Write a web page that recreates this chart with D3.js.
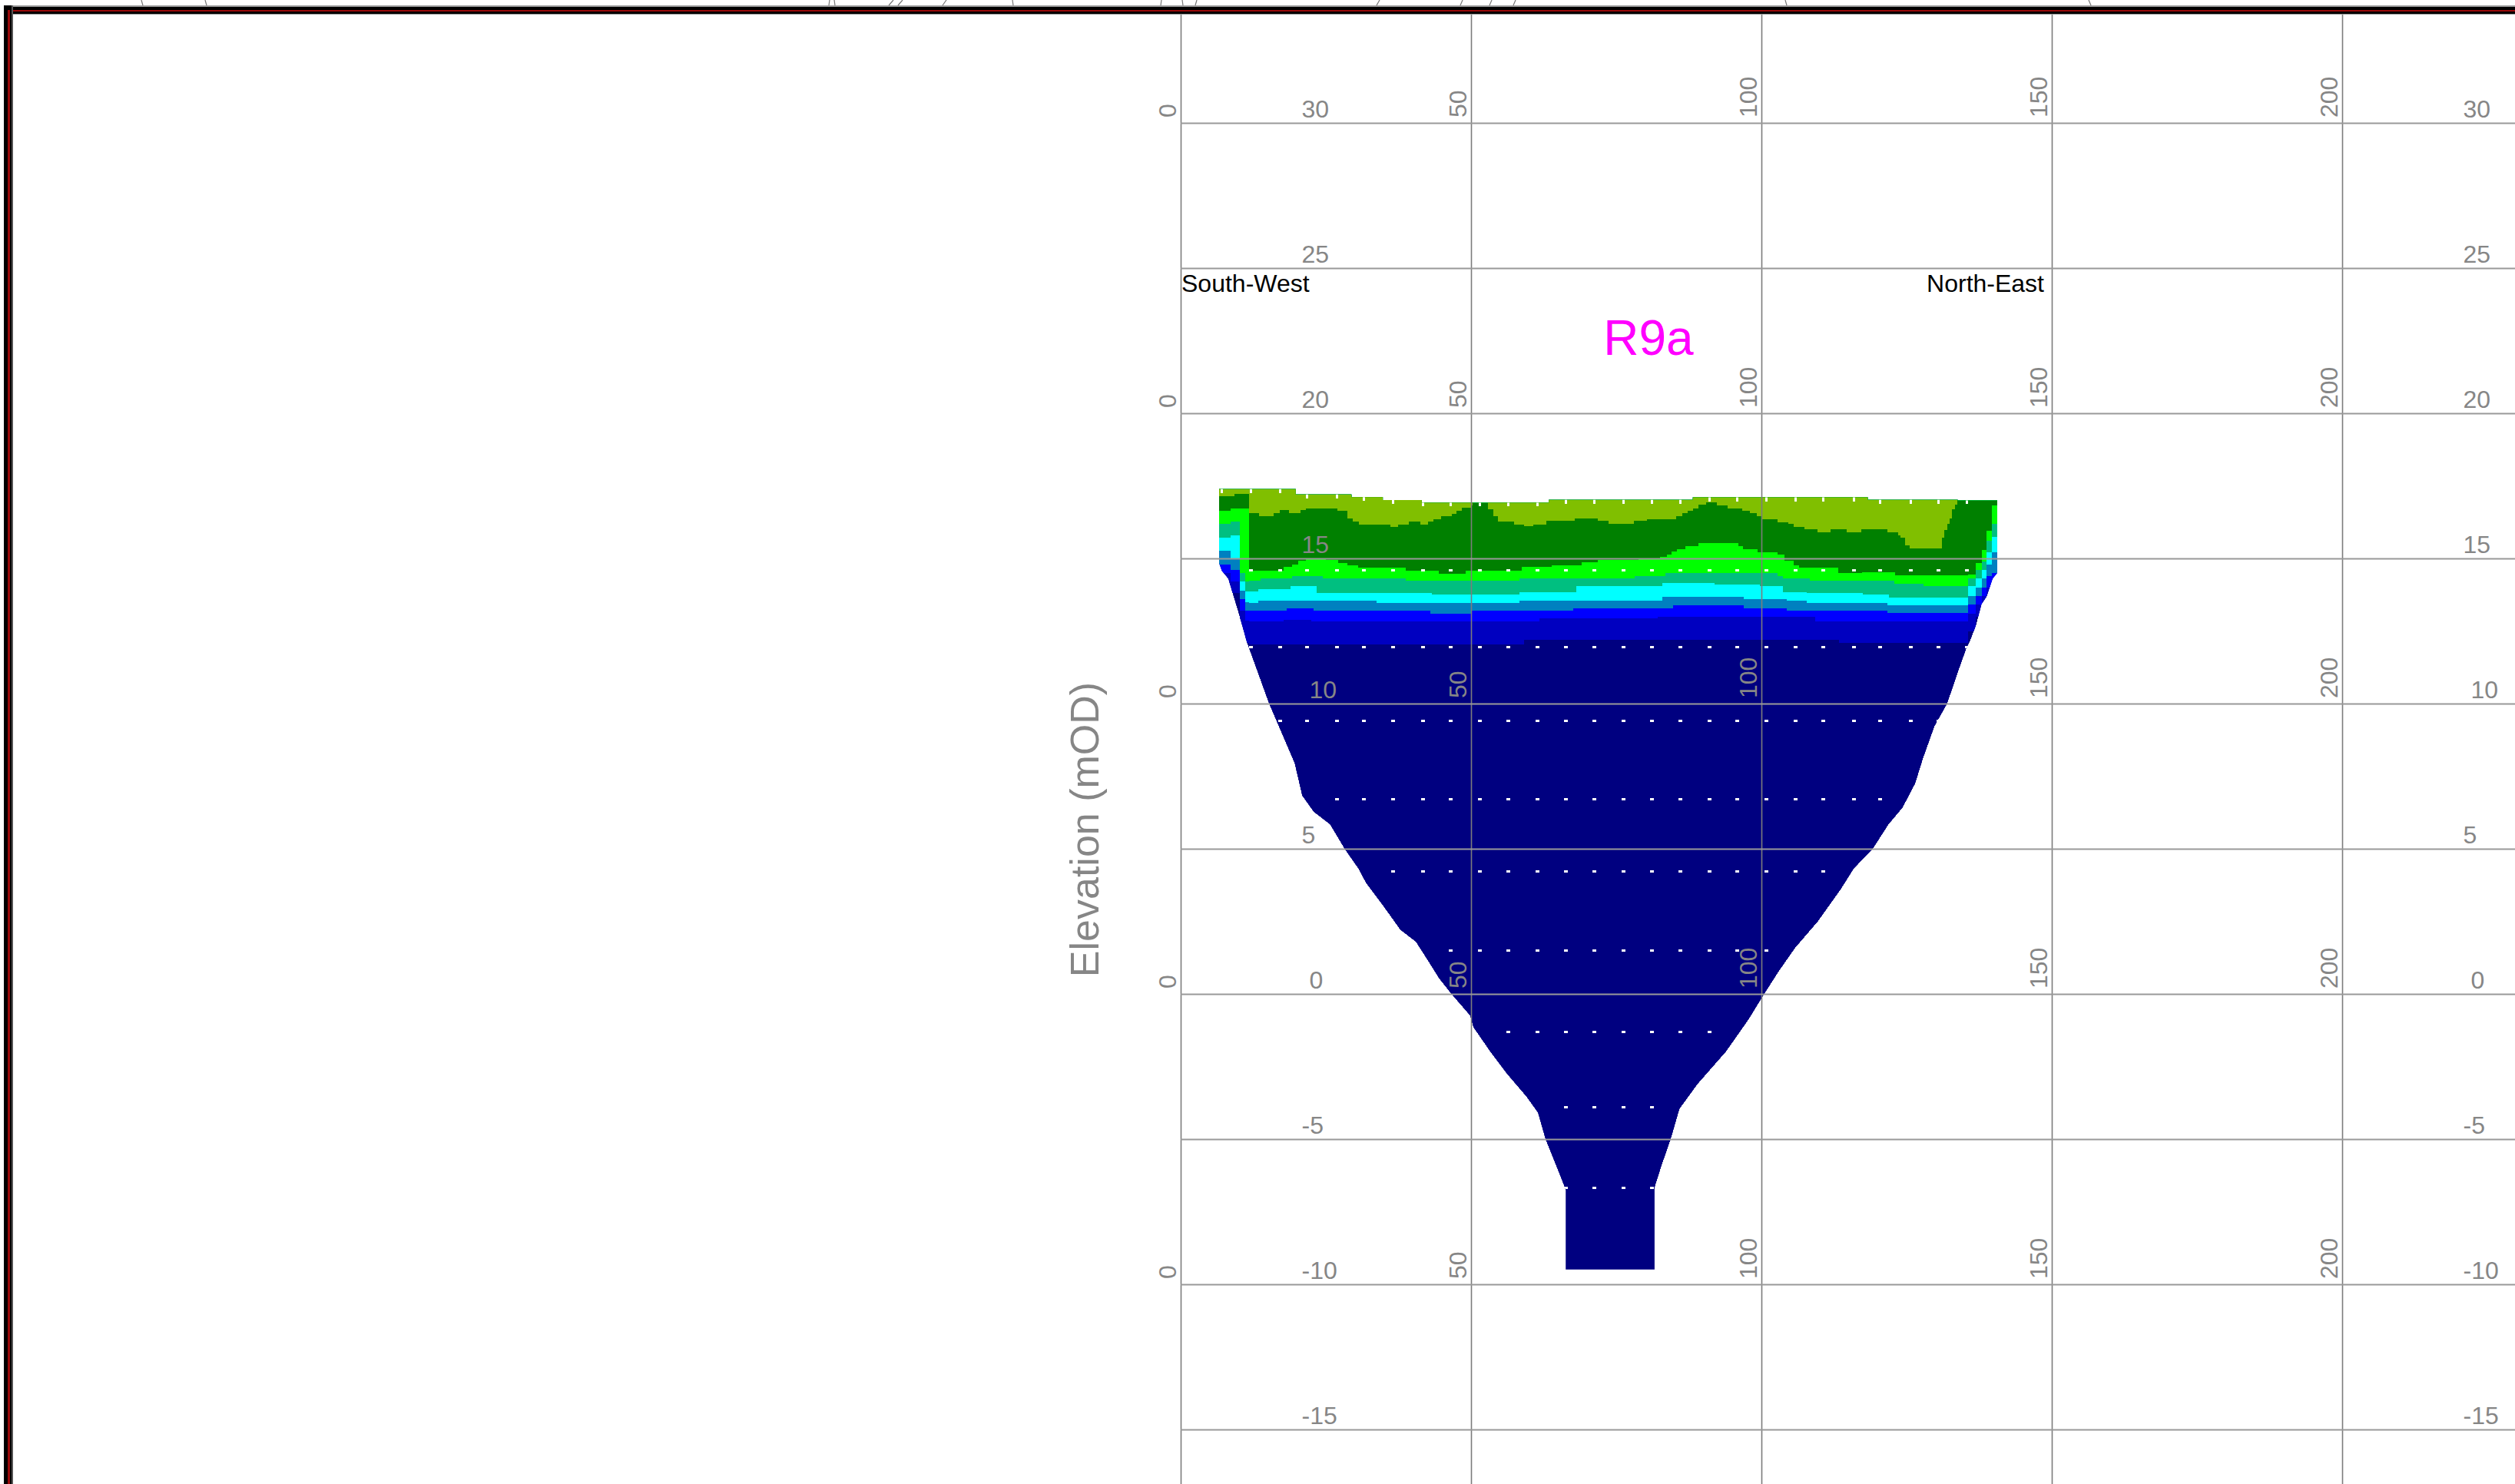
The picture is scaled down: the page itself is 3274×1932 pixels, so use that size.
<!DOCTYPE html>
<html>
<head>
<meta charset="utf-8">
<script src="https://cdn.jsdelivr.net/npm/d3@7"></script>
<style>
  html, body { margin: 0; padding: 0; background: #ffffff; }
  svg { display: block; }
  text { font-family: "Liberation Sans", Arial, Helvetica, sans-serif; }
</style>
</head>
<body>
<script>
// Resistivity model section R9a: elevation (mOD) against distance along the line (m)

const distanceTicks = [0, 50, 100, 150, 200];
const elevationTicks = [30, 25, 20, 15, 10, 5, 0, -5, -10, -15];
const distanceLabelRows = [30, 20, 10, 0, -10];
const elevationLabelColumns = [21.5, 221.5];

// electrode positions along the line (m)
const electrodes = [7.1, 12.1, 17.1, 21.8, 26.9, 31.5, 36.6, 41.7, 46.5, 51.5, 56.4, 61.4, 66.4, 71.2,
  76.2, 81.2, 86.0, 91.1, 95.8, 100.8, 105.9, 110.7, 115.9, 120.5, 125.7, 130.5, 135.4];

// ground surface [distance, elevation]
const topSurface = [[6.6, 17.39], [19.8, 17.2], [29.4, 17.11], [34.8, 17.01], [41.5, 16.92],
  [63.4, 17.02], [88.2, 17.1], [118.3, 17.02], [133.8, 17.0]];

// model limits at both ends, top to bottom [distance, elevation]
const leftEdge = [[6.6, 17.39], [6.6, 14.85], [7.1, 14.57], [8.2, 14.3], [9.1, 13.69], [9.9, 13.16],
  [10.8, 12.54], [11.4, 12.1], [12.2, 11.66], [15.2, 10], [19.6, 7.95], [20.9, 6.83], [22.9, 6.27],
  [25.7, 5.84], [28.2, 5.0], [30.6, 4.31], [31.9, 3.82], [34.8, 3.05], [37.8, 2.21], [40.5, 1.79],
  [42.3, 1.23], [44.5, 0.53], [46.6, 0], [49.8, -0.74], [50.4, -1.15], [53.3, -1.99], [56.2, -2.76],
  [59.5, -3.53], [61.5, -4.09], [62.8, -5.0], [65.2, -6.19], [66.3, -6.76], [66.3, -9.49]];
const rightEdge = [[140.6, 17.0], [140.6, 14.5], [139.8, 14.3], [138.8, 13.69], [137.9, 13.42],
  [137.0, 12.72], [136.0, 12.19], [135.3, 11.9], [134.0, 11.17], [132.0, 10], [129.8, 9.21],
  [127.8, 8.09], [126.5, 7.25], [124.3, 6.41], [121.9, 5.84], [119.2, 5.0], [115.9, 4.31],
  [113.7, 3.61], [109.7, 2.49], [105.8, 1.58], [103.1, 0.81], [100.5, 0], [97.8, -0.88],
  [93.9, -1.99], [89.0, -3.11], [85.9, -3.96], [84.4, -5.0], [82.8, -5.92], [81.6, -6.68], [81.6, -9.49]];

// contour colours, shallow to deep
const layerColors = ["#80bf00", "#008000", "#00ff00", "#00bf80", "#00ffff", "#0080c0", "#0000ff", "#0000c0", "#000080"];

// lower boundary of each coloured band [distance, elevation]
const baseOlive = [[6.6, 17.13], [9.3, 17.21], [11.74, 16.55], [13.53, 16.46], [15.99, 16.55], [17.11, 16.66],
  [18.68, 16.55], [20.69, 16.66], [21.58, 16.73], [26.95, 16.64], [28.74, 16.38], [29.63, 16.26],
  [30.75, 16.17], [36.12, 16.09], [37.46, 16.17], [39.25, 16.26], [41.26, 16.17], [42.6, 16.26],
  [43.5, 16.35], [44.84, 16.45], [46.63, 16.53], [47.52, 16.64], [48.42, 16.75], [49.98, 16.83],
  [50.2, 17.0], [52.89, 16.68], [53.78, 16.46], [54.68, 16.26], [57.36, 16.17], [59.15, 16.11],
  [60.72, 16.17], [62.95, 16.29], [67.87, 16.38], [71.83, 16.29], [73.65, 16.18], [77.98, 16.29],
  [80.25, 16.36], [85.26, 16.46], [86.4, 16.55], [87.32, 16.64], [88.23, 16.73], [89.14, 16.84],
  [90.5, 16.92], [92.33, 16.82], [94.15, 16.73], [96.65, 16.64], [98.02, 16.55], [99.16, 16.45],
  [100.07, 16.36], [102.8, 16.24], [104.63, 16.18], [105.54, 16.09], [107.36, 16.0], [109.64, 15.89],
  [111.92, 16.0], [114.65, 15.89], [117.15, 16.0], [121.71, 15.91], [123.53, 15.8], [123.99, 15.72],
  [124.67, 15.45], [125.58, 15.34], [131.05, 15.72], [131.51, 15.98], [131.96, 16.2], [132.42, 16.38],
  [132.87, 16.68], [133.33, 16.86], [133.79, 17.5], [140.7, 17.5]];
const baseDarkGreen = [[6.6, 16.64], [8.6, 16.73], [11.74, 14.58], [17.78, 14.7], [19.12, 14.79],
  [20.24, 14.92], [21.58, 15.01], [24.94, 14.94], [27.17, 14.85], [28.74, 14.76], [30.53, 14.67],
  [38.8, 14.58], [44.39, 14.48], [49.09, 14.57], [58.7, 14.7], [63.85, 14.76], [68.99, 14.88],
  [71.83, 14.94], [78.89, 14.99], [82.53, 15.05], [83.67, 15.14], [84.58, 15.23], [85.49, 15.32],
  [86.86, 15.43], [89.14, 15.52], [95.97, 15.43], [96.88, 15.32], [99.39, 15.21], [102.8, 15.12],
  [103.94, 14.92], [105.54, 14.76], [106.45, 14.67], [113.28, 14.5], [117.38, 14.52], [123.08, 14.41],
  [135.6, 14.45], [136.97, 14.85], [137.9, 15.3], [138.8, 15.95], [139.7, 16.82], [140.7, 16.82]];
const baseGreen = [[6.6, 16.2], [8.6, 16.26], [10.2, 14.5], [11.1, 14.2], [11.74, 14.22], [13.75, 14.3],
  [19.12, 14.39], [24.5, 14.3], [38.8, 14.22], [58.3, 14.3], [63.4, 14.32], [78.2, 14.39], [83.4, 14.5],
  [102.8, 14.39], [103.7, 14.3], [108.3, 14.22], [122.9, 14.13], [127.9, 14.04], [135.6, 14.3],
  [136.97, 14.6], [137.9, 14.9], [138.8, 15.6], [139.7, 16.2], [140.7, 16.2]];
const baseTeal = [[6.6, 15.72], [8.6, 15.8], [10.2, 14.2], [11.1, 13.85], [13.3, 13.95], [18.9, 14.04],
  [23.4, 13.82], [43.3, 13.76], [58.3, 13.84], [68.1, 14.04], [83.0, 14.15], [91.9, 14.11], [99.8, 14.04],
  [103.7, 13.84], [107.8, 13.82], [117.4, 13.76], [121.9, 13.64], [135.6, 14.04], [136.97, 14.3],
  [137.9, 14.6], [138.8, 15.2], [139.7, 15.75], [140.7, 15.75]];
const baseCyan = [[6.6, 15.27], [8.6, 15.0], [10.2, 13.9], [11.1, 13.5], [11.74, 13.47], [13.3, 13.55],
  [33.7, 13.47], [58.3, 13.55], [83.0, 13.67], [96.9, 13.61], [104.4, 13.55], [107.8, 13.47],
  [121.7, 13.38], [135.6, 13.7], [136.97, 14.0], [137.9, 14.3], [138.8, 14.8], [139.7, 15.2], [140.7, 15.2]];
const baseSteel = [[6.6, 14.79], [8.6, 14.6], [10.2, 13.6], [11.1, 13.2], [18.22, 13.29], [22.9, 13.2],
  [43.0, 13.09], [50.0, 13.2], [67.6, 13.29], [84.8, 13.38], [96.9, 13.29], [104.4, 13.2], [121.7, 13.11],
  [135.6, 13.42], [136.97, 13.7], [137.9, 14.0], [138.8, 14.4], [139.7, 14.5], [140.7, 14.5]];
const baseBlue = [[6.6, 14.5], [8.6, 14.2], [10.2, 13.2], [11.1, 12.85], [11.74, 12.82], [17.78, 12.89],
  [22.5, 12.82], [61.8, 12.94], [82.1, 13.0], [109.2, 12.82], [135.6, 13.1], [136.97, 13.4],
  [137.9, 13.7], [138.8, 14.0], [139.7, 14.2], [140.7, 14.2]];
const baseMediumBlue = [[6.6, 14.0], [8.6, 13.8], [10.2, 12.3], [11.1, 12.1], [11.74, 12.05],
  [59.15, 12.19], [113.3, 12.08], [135.6, 12.5], [136.97, 13.0], [137.9, 13.4], [138.8, 13.7],
  [139.7, 14.0], [140.7, 14.0]];

// model-point rows: elevation and extent along the line
const dotRowElev = [14.6, 11.95, 9.41, 6.71, 4.21, 1.5, -1.3, -3.9, -6.69];
const dotRowFrom = [12.1, 12.1, 17.1, 26.9, 36.6, 46.5, 56.4, 66.4, 66.4];
const dotRowTo = [135.4, 135.4, 130.5, 120.5, 110.7, 100.8, 91.1, 81.2, 81.2];

const W = 3274, H = 1932;
const GRAY = "#868686";

const svg = d3.select("body").append("svg")
  .attr("width", W).attr("height", H)
  .attr("viewBox", `0 0 ${W} ${H}`);

const x = d3.scaleLinear().domain([0, 200]).range([1537, 3049]);
const y = d3.scaleLinear().domain([30, -15]).range([160, 1861]);

// ---- outline of the model mesh ----
const outline = [];
topSurface.forEach((d, i) => {
  const nx = i < topSurface.length - 1 ? topSurface[i + 1][0] : rightEdge[0][0];
  outline.push([d[0], d[1]], [nx, d[1]]);
});
rightEdge.forEach(d => outline.push(d));
leftEdge.slice().reverse().forEach(d => outline.push(d));

const lineGen = d3.line().x(d => x(d[0])).y(d => y(d[1]));
const outlinePath = lineGen(outline) + "Z";

const defs = svg.append("defs");
defs.append("clipPath").attr("id", "meshClip").append("path").attr("d", outlinePath);

const model = svg.append("g").attr("clip-path", "url(#meshClip)").attr("shape-rendering", "crispEdges");

model.append("path").attr("d", outlinePath).attr("fill", layerColors[8]);

const bandArea = d3.area()
  .curve(d3.curveStepAfter)
  .x(d => x(d[0]))
  .y0(d => y(d[1]))
  .y1(y(18.5));

const bases = [baseOlive, baseDarkGreen, baseGreen, baseTeal, baseCyan, baseSteel, baseBlue, baseMediumBlue];
for (let i = bases.length - 1; i >= 0; i--) {
  model.append("path").attr("d", bandArea(bases[i])).attr("fill", layerColors[i]);
}

// electrode notches along the surface
function surfaceAt(d) {
  let v = topSurface[0][1];
  topSurface.forEach(p => { if (p[0] <= d) v = p[1]; });
  return v;
}
model.selectAll("rect.notch").data(electrodes).join("rect")
  .attr("class", "notch")
  .attr("x", d => x(d) - 1.5).attr("y", d => y(surfaceAt(d)) - 1)
  .attr("width", 3).attr("height", 6)
  .attr("fill", "#ffffff");

// model points
dotRowElev.forEach((e, r) => {
  const pts = electrodes.filter(d => d >= dotRowFrom[r] - 0.01 && d <= dotRowTo[r] + 0.01);
  model.selectAll(null).data(pts).join("rect")
    .attr("x", d => x(d) - 2.5).attr("y", y(e) - 1.5)
    .attr("width", 5).attr("height", 3)
    .attr("fill", "#ffffff");
});

// ---- grid ----
const vGrid = svg.append("g").attr("transform", "translate(0,19)")
  .call(d3.axisTop(x).tickValues(distanceTicks).tickSize(-(H - 19)).tickFormat(""));
vGrid.select(".domain").remove();
vGrid.selectAll("line").attr("stroke", "#7c7c7c").attr("stroke-width", 1.6);

const hGrid = svg.append("g").attr("transform", `translate(${x(0)},0)`)
  .call(d3.axisLeft(y).tickValues(elevationTicks).tickSize(-(W - x(0))).tickFormat(""));
hGrid.select(".domain").remove();
hGrid.selectAll("line").attr("stroke", "#999999").attr("stroke-width", 2.2);

// ---- tick labels ----
const labels = svg.append("g").attr("fill", GRAY).attr("font-size", 32);

// distance labels, repeated every 10 m of elevation
distanceLabelRows.forEach(e => {
  distanceTicks.forEach(d => {
    labels.append("text")
      .attr("transform", `translate(${x(d) - 6},${y(e) - 7}) rotate(-90)`)
      .attr("text-anchor", "start")
      .text(d);
  });
});

// elevation labels
const labelShift = v => (v === 10 || v === 0) ? 10 : 0;
elevationLabelColumns.forEach(c => {
  elevationTicks.forEach(v => {
    labels.append("text")
      .attr("x", x(c) - 5 + labelShift(v))
      .attr("y", y(v) - 7)
      .attr("text-anchor", "start")
      .text(v);
  });
});

// axis title
svg.append("text")
  .attr("transform", "translate(1430,1080) rotate(-90)")
  .attr("text-anchor", "middle")
  .attr("font-size", 52)
  .attr("fill", GRAY)
  .text("Elevation (mOD)");

// line orientation and section name
svg.append("text").attr("x", 1538).attr("y", 380).attr("font-size", 32).attr("fill", "#000")
  .text("South-West");
svg.append("text").attr("x", 2661).attr("y", 380).attr("font-size", 32).attr("fill", "#000")
  .attr("text-anchor", "end").text("North-East");
svg.append("text").attr("x", 2146).attr("y", 462).attr("font-size", 64).attr("fill", "#ff00ff")
  .attr("text-anchor", "middle").text("R9a");

// ---- sheet frame ----
const frame = svg.append("g").attr("shape-rendering", "crispEdges");
// strokes of the adjoining sheet showing above the frame
const sheetStrokes = [[184, 2], [267, 2], [1080, -1], [1086, 1], [1163, -6], [1175, -6], [1232, -5],
  [1318, 1], [1512, -1], [1539, 1], [1558, -2], [1796, -4], [1904, -3], [1942, -3], [1973, -3],
  [2324, 2], [2719, 3]];
sheetStrokes.forEach(s => {
  svg.append("line").attr("x1", s[0]).attr("y1", 0).attr("x2", s[0] + s[1]).attr("y2", 7)
    .attr("stroke", "#777").attr("stroke-width", 1.2);
});
// top band
frame.append("rect").attr("x", 5).attr("y", 7).attr("width", W - 5).attr("height", 12).attr("fill", "#9a9a9a");
frame.append("rect").attr("x", 5).attr("y", 9).attr("width", W - 5).attr("height", 8.5).attr("fill", "#000");
frame.append("rect").attr("x", 5).attr("y", 12.5).attr("width", W - 5).attr("height", 2.5).attr("fill", "#9a0a0a");
// left band
frame.append("rect").attr("x", 5).attr("y", 7).attr("width", 12).attr("height", H - 7).attr("fill", "#555");
frame.append("rect").attr("x", 5).attr("y", 7).attr("width", 10).attr("height", H - 7).attr("fill", "#000");
frame.append("rect").attr("x", 10).attr("y", 12.5).attr("width", 2.5).attr("height", H - 12.5).attr("fill", "#9a0a0a");
</script>
</body>
</html>
